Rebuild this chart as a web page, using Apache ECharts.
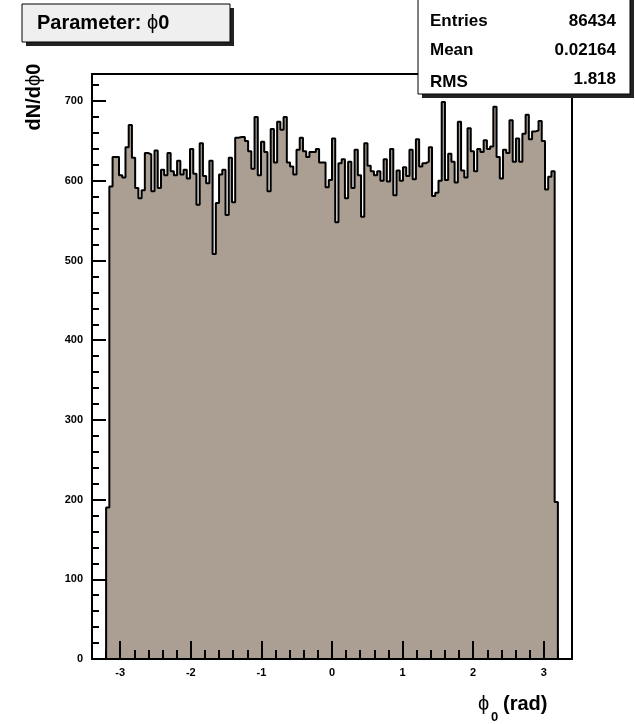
<!DOCTYPE html>
<html>
<head>
<meta charset="utf-8">
<script src="https://cdn.jsdelivr.net/npm/echarts@6/dist/echarts.min.js"></script>
<style>
html,body{margin:0;padding:0;background:#fff;}
#chart{width:635px;height:724px;}
</style>
</head>
<body>
<div id="chart"></div>
<script>
// ---- data ----
const histMin = -3.2;
const histMax = 3.2;
const binValues = [
  190, 593, 630, 630, 607, 604, 642, 670, 629, 591,
  578, 588, 635, 633, 587, 638, 591, 614, 607, 635,
  612, 607, 625, 608, 614, 603, 640, 609, 570, 647,
  606, 597, 625, 508, 572, 608, 614, 557, 629, 573,
  654, 655, 655, 650, 637, 615, 680, 607, 649, 636,
  587, 665, 623, 674, 664, 680, 623, 618, 608, 639,
  654, 637, 630, 636, 636, 640, 623, 623, 592, 601,
  653, 548, 622, 627, 578, 624, 591, 639, 607, 555,
  647, 619, 612, 607, 612, 600, 627, 599, 640, 582,
  613, 600, 617, 606, 639, 602, 652, 618, 622, 624,
  642, 581, 585, 600, 699, 601, 634, 624, 598, 674,
  613, 604, 666, 637, 612, 640, 636, 651, 640, 643,
  693, 630, 603, 639, 635, 676, 624, 653, 624, 659,
  683, 652, 662, 663, 675, 650, 589, 605, 612, 197
];
const xMajorTicks = [-3, -2, -1, 0, 1, 2, 3];
const xMinorTicks = [-3.2, -2.8, -2.6, -2.4, -2.2, -1.8, -1.6, -1.4, -1.2, -0.8, -0.6, -0.4, -0.2,
                     0.2, 0.4, 0.6, 0.8, 1.2, 1.4, 1.6, 1.8, 2.2, 2.4, 2.6, 2.8, 3.2];
const yMajorTicks = [0, 100, 200, 300, 400, 500, 600, 700];
const yMinorTicks = [20, 40, 60, 80, 120, 140, 160, 180, 220, 240, 260, 280, 320, 340, 360, 380,
                     420, 440, 460, 480, 520, 540, 560, 580, 620, 640, 660, 680, 720];
const statsLabels = ['Entries', 'Mean', 'RMS'];
const statsValues = ['86434', '0.02164', '1.818'];

// ---- build step outline from bins ----
const nBins = binValues.length;
const bw = (histMax - histMin) / nBins;
const stepData = [[histMin, 0]];
for (let i = 0; i < nBins; i++) {
  stepData.push([histMin + (i + 1) * bw, binValues[i]]);
}
stepData.push([histMax, 0]);

const FONT = '"Liberation Sans", "DejaVu Sans", Arial, sans-serif';
const chart = echarts.init(document.getElementById('chart'), null, {renderer: 'canvas'});

const common = {type: 'value', splitLine: {show: false}, z: 5};
chart.setOption({
  animation: false,
  backgroundColor: '#fff',
  grid: {left: 92, top: 74, width: 480, height: 585, show: true, borderColor: '#000', borderWidth: 2, backgroundColor: 'transparent'},
  xAxis: [
    Object.assign({}, common, {
      min: -3.4, max: 3.4, position: 'bottom',
      axisLine: {show: true, onZero: false, lineStyle: {color: '#000', width: 2}},
      axisTick: {show: true, inside: true, length: 18, customValues: xMajorTicks, lineStyle: {color: '#000', width: 2}},
      axisLabel: {show: true, customValues: xMajorTicks, color: '#000', fontFamily: FONT, fontWeight: 'bold', fontSize: 11, margin: 8}
    }),
    Object.assign({}, common, {
      min: -3.4, max: 3.4, position: 'bottom',
      axisLine: {show: false, onZero: false},
      axisTick: {show: true, inside: true, length: 9, customValues: xMinorTicks, lineStyle: {color: '#000', width: 2}},
      axisLabel: {show: false}
    })
  ],
  yAxis: [
    Object.assign({}, common, {
      min: 0, max: 734, position: 'left',
      axisLine: {show: true, onZero: false, lineStyle: {color: '#000', width: 2}},
      axisTick: {show: true, inside: true, length: 14, customValues: yMajorTicks, lineStyle: {color: '#000', width: 2}},
      axisLabel: {show: true, customValues: yMajorTicks, color: '#000', fontFamily: FONT, fontWeight: 'bold', fontSize: 11, margin: 9}
    }),
    Object.assign({}, common, {
      min: 0, max: 734, position: 'left',
      axisLine: {show: false, onZero: false},
      axisTick: {show: true, inside: true, length: 7, customValues: yMinorTicks, lineStyle: {color: '#000', width: 2}},
      axisLabel: {show: false}
    })
  ],
  series: [{
    type: 'line',
    xAxisIndex: 0, yAxisIndex: 0,
    data: stepData,
    step: 'start',
    symbol: 'none',
    z: 2,
    lineStyle: {color: '#000', width: 2},
    areaStyle: {color: '#ab9f94', opacity: 1}
  }],
  graphic: [
    // title box
    {type: 'rect', shape: {x: 26, y: 8, width: 208, height: 38}, style: {fill: '#222'}, z: 20},
    {type: 'rect', shape: {x: 22, y: 4, width: 208, height: 38}, style: {fill: '#efefef', stroke: '#000', lineWidth: 1}, z: 21},
    {type: 'text', x: 37, y: 23, z: 22, style: {
      text: '{b|Parameter: }{n|ϕ}{b|0}', align: 'left', verticalAlign: 'middle',
      rich: {b: {fontFamily: FONT, fontWeight: 'bold', fontSize: 20, fill: '#000'},
             n: {fontFamily: FONT, fontWeight: 'normal', fontSize: 20, fill: '#000'}}
    }},
    // stats box
    {type: 'rect', shape: {x: 422, y: 0, width: 212, height: 98}, style: {fill: '#222'}, z: 20},
    {type: 'rect', shape: {x: 418, y: -4, width: 212, height: 98}, style: {fill: '#fff', stroke: '#000', lineWidth: 1}, z: 21},
    {type: 'text', x: 430, y: 21, z: 22, style: {text: statsLabels[0], font: 'bold 17px ' + FONT, fill: '#000', verticalAlign: 'middle'}},
    {type: 'text', x: 616, y: 21, z: 22, style: {text: statsValues[0], font: 'bold 17px ' + FONT, fill: '#000', align: 'right', verticalAlign: 'middle'}},
    {type: 'text', x: 430, y: 50, z: 22, style: {text: statsLabels[1], font: 'bold 17px ' + FONT, fill: '#000', verticalAlign: 'middle'}},
    {type: 'text', x: 616, y: 50, z: 22, style: {text: statsValues[1], font: 'bold 17px ' + FONT, fill: '#000', align: 'right', verticalAlign: 'middle'}},
    {type: 'text', x: 430, y: 82, z: 22, style: {text: statsLabels[2], font: 'bold 17px ' + FONT, fill: '#000', verticalAlign: 'middle'}},
    {type: 'text', x: 616, y: 79, z: 22, style: {text: statsValues[2], font: 'bold 17px ' + FONT, fill: '#000', align: 'right', verticalAlign: 'middle'}},
    // y axis title
    {type: 'text', x: 34, y: 97, rotation: Math.PI / 2, z: 22, style: {
      text: '{b|dN/d}{n|ϕ}{b|0}', align: 'center', verticalAlign: 'middle',
      rich: {b: {fontFamily: FONT, fontWeight: 'bold', fontSize: 20, fill: '#000'},
             n: {fontFamily: FONT, fontWeight: 'normal', fontSize: 20, fill: '#000'}}
    }},
    // x axis title
    {type: 'text', x: 478, y: 704, z: 22, style: {text: 'ϕ', font: 'normal 20px ' + FONT, fill: '#000', verticalAlign: 'middle'}},
    {type: 'text', x: 491, y: 717, z: 22, style: {text: '0', font: 'bold 13px ' + FONT, fill: '#000', verticalAlign: 'middle'}},
    {type: 'text', x: 503, y: 704, z: 22, style: {text: '(rad)', font: 'bold 20px ' + FONT, fill: '#000', verticalAlign: 'middle'}}
  ]
});
</script>
</body>
</html>
